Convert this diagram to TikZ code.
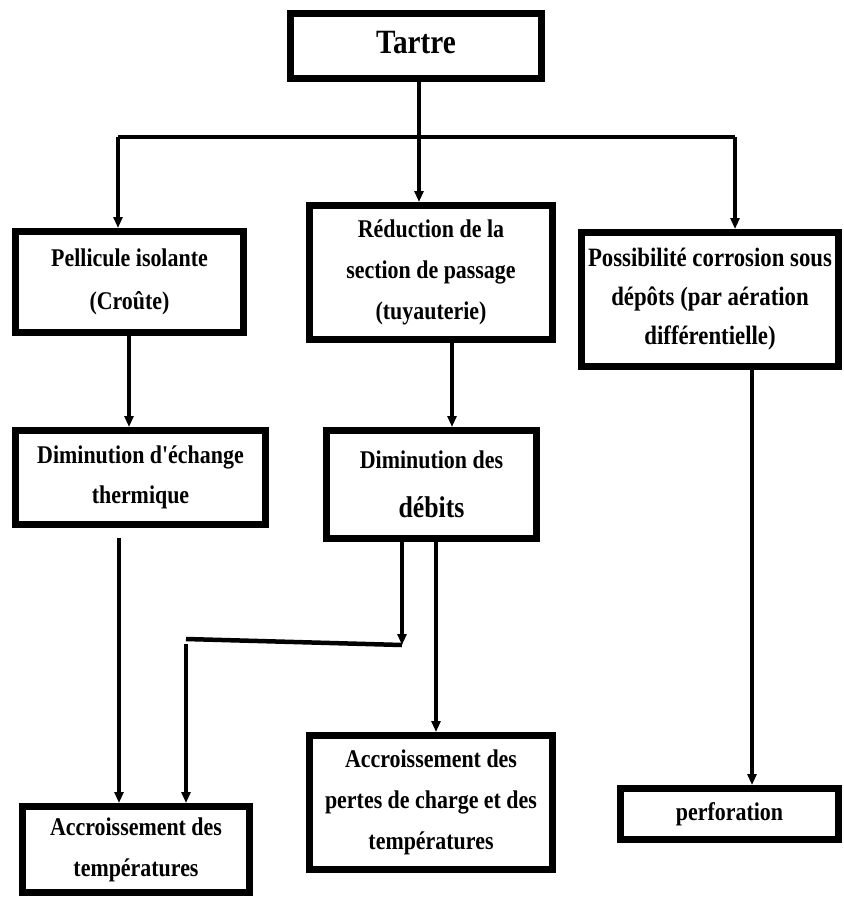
\documentclass[tikz,border=0pt]{standalone}
\usepackage{fontspec}
\setmainfont{Liberation Serif}[FakeStretch=0.86, Ligatures=TeXOff]
\usetikzlibrary{arrows.meta}
\begin{document}
\begin{tikzpicture}[x=1pt,y=-1pt,
  box/.style={draw, line width=7pt, fill=white, align=center, inner sep=0pt,
    font=\bfseries\fontsize{25.5}{41}\selectfont},
  conn/.style={line width=3.2pt},
  arr/.style={conn, -{Triangle[length=11pt,width=9pt]}},
  thickconn/.style={line width=4.5pt}]
\useasboundingbox (0,0) rectangle (843,899);
% boxes
\node[box, minimum width=251pt, minimum height=65pt, font=\bfseries\fontsize{34}{38}\selectfont] (tartre) at (416,46) {\raisebox{8pt}{Tartre}};
\node[box, minimum width=228pt, minimum height=101pt, font=\bfseries\fontsize{25.5}{43}\selectfont] (pell) at (129.5,282) {Pellicule isolante\\(Croûte)};
\node[box, minimum width=243pt, minimum height=134pt] (red) at (431,272.5) {Réduction de la\\section de passage\\(tuyauterie)};
\node[box, minimum width=257pt, minimum height=134pt, font=\bfseries\fontsize{26.5}{39}\selectfont] (poss) at (710,299.5) {Possibilité corrosion sous\\dépôts (par aération\\différentielle)};
\node[box, minimum width=250pt, minimum height=94pt, font=\bfseries\fontsize{25.5}{40}\selectfont] (dim1) at (140.5,477.5) {Diminution d'échange\\thermique};
\node[box, minimum width=210pt, minimum height=108pt, font=\bfseries\fontsize{25.5}{49}\selectfont] (dim2) at (431.5,484.5) {Diminution des\\{\fontsize{30}{49}\selectfont débits}};
\node[box, minimum width=227pt, minimum height=86pt] (acc1) at (136,849.5) {Accroissement des\\températures};
\node[box, minimum width=243pt, minimum height=134pt] (acc2) at (431,802.5) {Accroissement des\\pertes de charge et des\\températures};
\node[box, minimum width=218pt, minimum height=51pt] (perf) at (729.5,814) {perforation};
% connectors from Tartre
\coordinate (j) at (419,137);
\coordinate (jl) at (118,137);
\coordinate (jr) at (735,137);
\draw[conn] (tartre.south -| j) -- (j);
\draw[conn] (jl) -- (jr);
\draw[arr] (jl) -- (jl |- pell.north);
\draw[arr] (j) -- (j |- red.north);
\draw[arr] (jr) -- (jr |- poss.north);
% second level
\coordinate (c1) at (129,0);
\coordinate (c2) at (452,0);
\coordinate (c3) at (752,0);
\draw[arr] (pell.south -| c1) -- (dim1.north -| c1);
\draw[arr] (red.south -| c2) -- (dim2.north -| c2);
\draw[arr] (poss.south -| c3) -- (perf.north -| c3);
% third level
\coordinate (d1) at (119,538);
\draw[arr] (d1) -- (d1 |- acc1.north);
\coordinate (b1) at (402,645);
\coordinate (b2) at (186,639);
\coordinate (b3) at (186,644);
\draw[arr] (dim2.south -| b1) -- (b1);
\draw[thickconn] (b1) -- (b2);
\draw[arr] (b3) -- (b3 |- acc1.north);
\coordinate (c4) at (436,0);
\draw[arr] (dim2.south -| c4) -- (acc2.north -| c4);
\end{tikzpicture}
\end{document}
